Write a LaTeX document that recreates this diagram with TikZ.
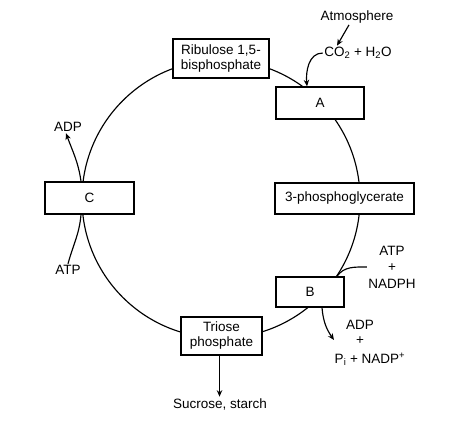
\documentclass[tikz,border=0pt]{standalone}
\usepackage{fontspec}
\setmainfont{Liberation Sans}
\usetikzlibrary{arrows.meta}
\begin{document}
\begin{tikzpicture}[x=1pt,y=-1pt,
  font=\fontsize{13.5}{16}\selectfont,
  line width=1.15pt,
  box/.style={draw,fill=white,inner sep=0pt,align=center,line width=1.4pt},
  lbl/.style={inner sep=1pt,align=center},
  arr/.style={-{Stealth[length=6.5pt,width=5.5pt]}}]
\useasboundingbox (0,0) rectangle (468,421);
% cycle
\draw (221,199) circle[radius=139];
% boxes
\node[box,minimum width=96pt,minimum height=39pt,font=\fontsize{13.5}{15}\selectfont] (rub) at (221,58.5) {Ribulose 1,5-\\bisphosphate};
\node[box,minimum width=88pt,minimum height=32pt] (A) at (320,103) {A};
\node[box,minimum width=139pt,minimum height=31pt] (pga) at (344.5,198.5) {3-phosphoglycerate};
\node[box,minimum width=68pt,minimum height=30pt] (B) at (310,292) {B};
\node[box,minimum width=89pt,minimum height=32pt] (C) at (89.5,198) {C};
\node[box,minimum width=81pt,minimum height=38pt,font=\fontsize{13.5}{15}\selectfont] (tri) at (221.5,336) {Triose\\phosphate};
% labels
\node[lbl] (atm) at (357,17) {Atmosphere};
\node[lbl] (co2) at (358,53) {CO\textsubscript{2} + H\textsubscript{2}O};
\node[lbl] (adpC) at (68,127) {ADP};
\node[lbl] (atpC) at (68,270) {ATP};
\node[lbl,font=\fontsize{13.5}{16.5}\selectfont] (atpn) at (392,267) {ATP\\+\\NADPH};
\node[lbl] (adpB) at (360,325) {ADP};
\node[lbl] (plusB) at (360,341) {+};
\node[lbl] (pi) at (370,359) {P\textsubscript{i} + NADP\textsuperscript{+}};
\node[lbl] (suc) at (220,404) {Sucrose, starch};
\coordinate (bout) at (334,340);
% connectors
\draw[arr] ([xshift=-8pt]atm.south) -- ([xshift=-21pt]co2.north);
\draw[arr] (co2.west) to[out=180,in=95] ([xshift=-13pt]A.north);
\draw[arr] ([xshift=-8.5pt]C.north) to[out=98,in=-70] ([xshift=-2pt]adpC.south);
\draw (atpC.north) to[out=75,in=-95] ([xshift=-8.5pt]C.south);
\draw (atpn.west) to[out=180,in=55] ([xshift=27pt]B.north);
\draw[arr] ([xshift=12pt]B.south) to[out=-85,in=125] (bout);
\draw[arr] ([xshift=-2pt]tri.south) -- ([xshift=-2pt]tri.south |- suc.north);
\end{tikzpicture}
\end{document}
